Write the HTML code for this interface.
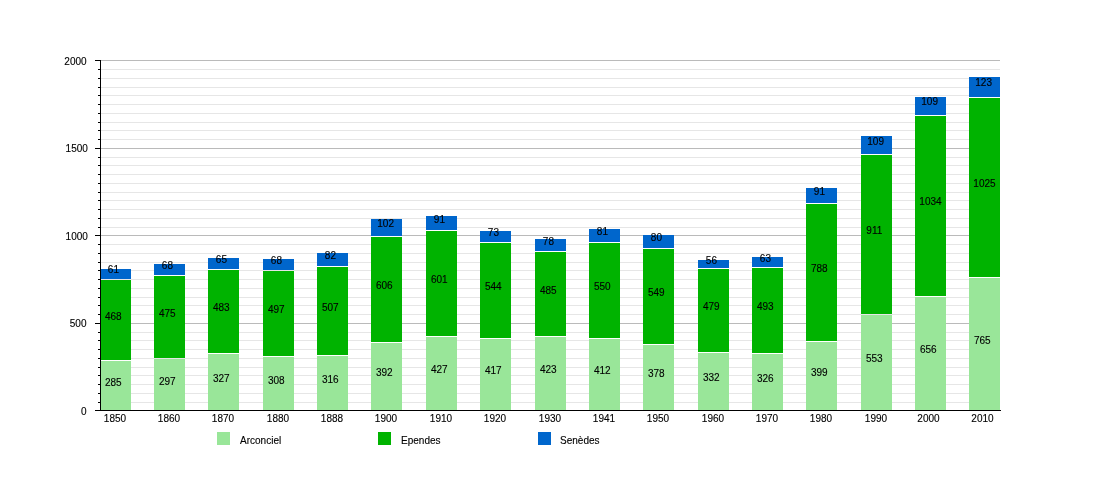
<!DOCTYPE html>
<html><head><meta charset="utf-8"><title>Population</title>
<style>html,body{margin:0;padding:0;background:#fff}svg{display:block}text{font-family:"Liberation Sans",sans-serif;font-size:10.5px;fill:#000;stroke:#000;stroke-width:0.12px}</style></head>
<body>
<svg width="1100" height="500" viewBox="0 0 1100 500">
<rect x="0" y="0" width="1100" height="500" fill="#fff"/>
<g shape-rendering="crispEdges">
<rect x="101" y="402" width="899" height="1" fill="#e6e6e6"/>
<rect x="101" y="393" width="899" height="1" fill="#e6e6e6"/>
<rect x="101" y="384" width="899" height="1" fill="#e6e6e6"/>
<rect x="101" y="375" width="899" height="1" fill="#e6e6e6"/>
<rect x="101" y="367" width="899" height="1" fill="#e6e6e6"/>
<rect x="101" y="358" width="899" height="1" fill="#e6e6e6"/>
<rect x="101" y="349" width="899" height="1" fill="#e6e6e6"/>
<rect x="101" y="340" width="899" height="1" fill="#e6e6e6"/>
<rect x="101" y="332" width="899" height="1" fill="#e6e6e6"/>
<rect x="101" y="323" width="899" height="1" fill="#bababa"/>
<rect x="101" y="314" width="899" height="1" fill="#e6e6e6"/>
<rect x="101" y="305" width="899" height="1" fill="#e6e6e6"/>
<rect x="101" y="297" width="899" height="1" fill="#e6e6e6"/>
<rect x="101" y="288" width="899" height="1" fill="#e6e6e6"/>
<rect x="101" y="279" width="899" height="1" fill="#e6e6e6"/>
<rect x="101" y="270" width="899" height="1" fill="#e6e6e6"/>
<rect x="101" y="262" width="899" height="1" fill="#e6e6e6"/>
<rect x="101" y="253" width="899" height="1" fill="#e6e6e6"/>
<rect x="101" y="244" width="899" height="1" fill="#e6e6e6"/>
<rect x="101" y="235" width="899" height="1" fill="#bababa"/>
<rect x="101" y="227" width="899" height="1" fill="#e6e6e6"/>
<rect x="101" y="218" width="899" height="1" fill="#e6e6e6"/>
<rect x="101" y="209" width="899" height="1" fill="#e6e6e6"/>
<rect x="101" y="200" width="899" height="1" fill="#e6e6e6"/>
<rect x="101" y="192" width="899" height="1" fill="#e6e6e6"/>
<rect x="101" y="183" width="899" height="1" fill="#e6e6e6"/>
<rect x="101" y="174" width="899" height="1" fill="#e6e6e6"/>
<rect x="101" y="165" width="899" height="1" fill="#e6e6e6"/>
<rect x="101" y="157" width="899" height="1" fill="#e6e6e6"/>
<rect x="101" y="148" width="899" height="1" fill="#bababa"/>
<rect x="101" y="139" width="899" height="1" fill="#e6e6e6"/>
<rect x="101" y="130" width="899" height="1" fill="#e6e6e6"/>
<rect x="101" y="122" width="899" height="1" fill="#e6e6e6"/>
<rect x="101" y="113" width="899" height="1" fill="#e6e6e6"/>
<rect x="101" y="104" width="899" height="1" fill="#e6e6e6"/>
<rect x="101" y="95" width="899" height="1" fill="#e6e6e6"/>
<rect x="101" y="87" width="899" height="1" fill="#e6e6e6"/>
<rect x="101" y="78" width="899" height="1" fill="#e6e6e6"/>
<rect x="101" y="69" width="899" height="1" fill="#e6e6e6"/>
<rect x="101" y="60" width="899" height="1" fill="#bababa"/>
<rect x="100" y="361" width="31" height="49" fill="#99e699"/>
<rect x="100" y="280" width="31" height="80" fill="#00b300"/>
<rect x="100" y="269" width="31" height="10" fill="#0066cc"/>
<rect x="154" y="359" width="31" height="51" fill="#99e699"/>
<rect x="154" y="276" width="31" height="82" fill="#00b300"/>
<rect x="154" y="264" width="31" height="11" fill="#0066cc"/>
<rect x="208" y="354" width="31" height="56" fill="#99e699"/>
<rect x="208" y="270" width="31" height="83" fill="#00b300"/>
<rect x="208" y="258" width="31" height="11" fill="#0066cc"/>
<rect x="263" y="357" width="31" height="53" fill="#99e699"/>
<rect x="263" y="271" width="31" height="85" fill="#00b300"/>
<rect x="263" y="259" width="31" height="11" fill="#0066cc"/>
<rect x="317" y="356" width="31" height="54" fill="#99e699"/>
<rect x="317" y="267" width="31" height="88" fill="#00b300"/>
<rect x="317" y="253" width="31" height="13" fill="#0066cc"/>
<rect x="371" y="343" width="31" height="67" fill="#99e699"/>
<rect x="371" y="237" width="31" height="105" fill="#00b300"/>
<rect x="371" y="219" width="31" height="17" fill="#0066cc"/>
<rect x="426" y="337" width="31" height="73" fill="#99e699"/>
<rect x="426" y="231" width="31" height="105" fill="#00b300"/>
<rect x="426" y="216" width="31" height="14" fill="#0066cc"/>
<rect x="480" y="339" width="31" height="71" fill="#99e699"/>
<rect x="480" y="243" width="31" height="95" fill="#00b300"/>
<rect x="480" y="231" width="31" height="11" fill="#0066cc"/>
<rect x="535" y="337" width="31" height="73" fill="#99e699"/>
<rect x="535" y="252" width="31" height="84" fill="#00b300"/>
<rect x="535" y="239" width="31" height="12" fill="#0066cc"/>
<rect x="589" y="339" width="31" height="71" fill="#99e699"/>
<rect x="589" y="243" width="31" height="95" fill="#00b300"/>
<rect x="589" y="229" width="31" height="13" fill="#0066cc"/>
<rect x="643" y="345" width="31" height="65" fill="#99e699"/>
<rect x="643" y="249" width="31" height="95" fill="#00b300"/>
<rect x="643" y="235" width="31" height="13" fill="#0066cc"/>
<rect x="698" y="353" width="31" height="57" fill="#99e699"/>
<rect x="698" y="269" width="31" height="83" fill="#00b300"/>
<rect x="698" y="260" width="31" height="8" fill="#0066cc"/>
<rect x="752" y="354" width="31" height="56" fill="#99e699"/>
<rect x="752" y="268" width="31" height="85" fill="#00b300"/>
<rect x="752" y="257" width="31" height="10" fill="#0066cc"/>
<rect x="806" y="342" width="31" height="68" fill="#99e699"/>
<rect x="806" y="204" width="31" height="137" fill="#00b300"/>
<rect x="806" y="188" width="31" height="15" fill="#0066cc"/>
<rect x="861" y="315" width="31" height="95" fill="#99e699"/>
<rect x="861" y="155" width="31" height="159" fill="#00b300"/>
<rect x="861" y="136" width="31" height="18" fill="#0066cc"/>
<rect x="915" y="297" width="31" height="113" fill="#99e699"/>
<rect x="915" y="116" width="31" height="180" fill="#00b300"/>
<rect x="915" y="97" width="31" height="18" fill="#0066cc"/>
<rect x="969" y="278" width="31" height="132" fill="#99e699"/>
<rect x="969" y="98" width="31" height="179" fill="#00b300"/>
<rect x="969" y="77" width="31" height="20" fill="#0066cc"/>
<rect x="100" y="60" width="1" height="351" fill="#000"/>
<rect x="95" y="410" width="906" height="1" fill="#000"/>
<rect x="95" y="410" width="5" height="1" fill="#000"/>
<rect x="98" y="402" width="2" height="1" fill="#000"/>
<rect x="98" y="393" width="2" height="1" fill="#000"/>
<rect x="98" y="384" width="2" height="1" fill="#000"/>
<rect x="98" y="375" width="2" height="1" fill="#000"/>
<rect x="98" y="367" width="2" height="1" fill="#000"/>
<rect x="98" y="358" width="2" height="1" fill="#000"/>
<rect x="98" y="349" width="2" height="1" fill="#000"/>
<rect x="98" y="340" width="2" height="1" fill="#000"/>
<rect x="98" y="332" width="2" height="1" fill="#000"/>
<rect x="95" y="323" width="5" height="1" fill="#000"/>
<rect x="98" y="314" width="2" height="1" fill="#000"/>
<rect x="98" y="305" width="2" height="1" fill="#000"/>
<rect x="98" y="297" width="2" height="1" fill="#000"/>
<rect x="98" y="288" width="2" height="1" fill="#000"/>
<rect x="98" y="279" width="2" height="1" fill="#000"/>
<rect x="98" y="270" width="2" height="1" fill="#000"/>
<rect x="98" y="262" width="2" height="1" fill="#000"/>
<rect x="98" y="253" width="2" height="1" fill="#000"/>
<rect x="98" y="244" width="2" height="1" fill="#000"/>
<rect x="95" y="235" width="5" height="1" fill="#000"/>
<rect x="98" y="227" width="2" height="1" fill="#000"/>
<rect x="98" y="218" width="2" height="1" fill="#000"/>
<rect x="98" y="209" width="2" height="1" fill="#000"/>
<rect x="98" y="200" width="2" height="1" fill="#000"/>
<rect x="98" y="192" width="2" height="1" fill="#000"/>
<rect x="98" y="183" width="2" height="1" fill="#000"/>
<rect x="98" y="174" width="2" height="1" fill="#000"/>
<rect x="98" y="165" width="2" height="1" fill="#000"/>
<rect x="98" y="157" width="2" height="1" fill="#000"/>
<rect x="95" y="148" width="5" height="1" fill="#000"/>
<rect x="98" y="139" width="2" height="1" fill="#000"/>
<rect x="98" y="130" width="2" height="1" fill="#000"/>
<rect x="98" y="122" width="2" height="1" fill="#000"/>
<rect x="98" y="113" width="2" height="1" fill="#000"/>
<rect x="98" y="104" width="2" height="1" fill="#000"/>
<rect x="98" y="95" width="2" height="1" fill="#000"/>
<rect x="98" y="87" width="2" height="1" fill="#000"/>
<rect x="98" y="78" width="2" height="1" fill="#000"/>
<rect x="98" y="69" width="2" height="1" fill="#000"/>
<rect x="95" y="60" width="5" height="1" fill="#000"/>
<rect x="217" y="432" width="13" height="13" fill="#99e699"/>
<rect x="378" y="432" width="13" height="13" fill="#00b300"/>
<rect x="538" y="432" width="13" height="13" fill="#0066cc"/>
</g>
<text transform="translate(86.6,414.5) scale(0.955,1)" text-anchor="end">0</text>
<text transform="translate(86.5,326.7) scale(0.955,1)" text-anchor="end">500</text>
<text transform="translate(87.9,239.5) scale(0.955,1)" text-anchor="end">1000</text>
<text transform="translate(87.9,151.5) scale(0.955,1)" text-anchor="end">1500</text>
<text transform="translate(86.6,64.5) scale(0.955,1)" text-anchor="end">2000</text>
<text transform="translate(115.0,422.0) scale(0.955,1)" text-anchor="middle">1850</text>
<text transform="translate(169.0,422.0) scale(0.955,1)" text-anchor="middle">1860</text>
<text transform="translate(223.0,422.0) scale(0.955,1)" text-anchor="middle">1870</text>
<text transform="translate(278.0,422.0) scale(0.955,1)" text-anchor="middle">1880</text>
<text transform="translate(332.0,422.0) scale(0.955,1)" text-anchor="middle">1888</text>
<text transform="translate(386.0,422.0) scale(0.955,1)" text-anchor="middle">1900</text>
<text transform="translate(441.0,422.0) scale(0.955,1)" text-anchor="middle">1910</text>
<text transform="translate(495.0,422.0) scale(0.955,1)" text-anchor="middle">1920</text>
<text transform="translate(550.0,422.0) scale(0.955,1)" text-anchor="middle">1930</text>
<text transform="translate(604.0,422.0) scale(0.955,1)" text-anchor="middle">1941</text>
<text transform="translate(658.0,422.0) scale(0.955,1)" text-anchor="middle">1950</text>
<text transform="translate(713.0,422.0) scale(0.955,1)" text-anchor="middle">1960</text>
<text transform="translate(767.0,422.0) scale(0.955,1)" text-anchor="middle">1970</text>
<text transform="translate(821.0,422.0) scale(0.955,1)" text-anchor="middle">1980</text>
<text transform="translate(876.0,422.0) scale(0.955,1)" text-anchor="middle">1990</text>
<text transform="translate(928.5,422.0) scale(0.955,1)" text-anchor="middle">2000</text>
<text transform="translate(982.5,422.0) scale(0.955,1)" text-anchor="middle">2010</text>
<text transform="translate(113.3,386.0) scale(0.955,1)" text-anchor="middle">285</text>
<text transform="translate(113.3,320.0) scale(0.955,1)" text-anchor="middle">468</text>
<text transform="translate(113.4,273.0) scale(0.955,1)" text-anchor="middle">61</text>
<text transform="translate(167.3,385.0) scale(0.955,1)" text-anchor="middle">297</text>
<text transform="translate(167.3,317.0) scale(0.955,1)" text-anchor="middle">475</text>
<text transform="translate(167.4,269.0) scale(0.955,1)" text-anchor="middle">68</text>
<text transform="translate(221.3,382.0) scale(0.955,1)" text-anchor="middle">327</text>
<text transform="translate(221.3,311.0) scale(0.955,1)" text-anchor="middle">483</text>
<text transform="translate(221.4,263.0) scale(0.955,1)" text-anchor="middle">65</text>
<text transform="translate(276.3,384.0) scale(0.955,1)" text-anchor="middle">308</text>
<text transform="translate(276.3,313.0) scale(0.955,1)" text-anchor="middle">497</text>
<text transform="translate(276.4,264.0) scale(0.955,1)" text-anchor="middle">68</text>
<text transform="translate(330.3,383.0) scale(0.955,1)" text-anchor="middle">316</text>
<text transform="translate(330.3,311.0) scale(0.955,1)" text-anchor="middle">507</text>
<text transform="translate(330.4,259.0) scale(0.955,1)" text-anchor="middle">82</text>
<text transform="translate(384.3,376.0) scale(0.955,1)" text-anchor="middle">392</text>
<text transform="translate(384.3,289.0) scale(0.955,1)" text-anchor="middle">606</text>
<text transform="translate(385.6,227.0) scale(0.955,1)" text-anchor="middle">102</text>
<text transform="translate(439.3,373.0) scale(0.955,1)" text-anchor="middle">427</text>
<text transform="translate(439.3,283.0) scale(0.955,1)" text-anchor="middle">601</text>
<text transform="translate(439.4,223.0) scale(0.955,1)" text-anchor="middle">91</text>
<text transform="translate(493.3,374.0) scale(0.955,1)" text-anchor="middle">417</text>
<text transform="translate(493.3,290.0) scale(0.955,1)" text-anchor="middle">544</text>
<text transform="translate(493.4,236.0) scale(0.955,1)" text-anchor="middle">73</text>
<text transform="translate(548.3,373.0) scale(0.955,1)" text-anchor="middle">423</text>
<text transform="translate(548.3,294.0) scale(0.955,1)" text-anchor="middle">485</text>
<text transform="translate(548.4,245.0) scale(0.955,1)" text-anchor="middle">78</text>
<text transform="translate(602.3,374.0) scale(0.955,1)" text-anchor="middle">412</text>
<text transform="translate(602.3,290.0) scale(0.955,1)" text-anchor="middle">550</text>
<text transform="translate(602.4,235.0) scale(0.955,1)" text-anchor="middle">81</text>
<text transform="translate(656.3,377.0) scale(0.955,1)" text-anchor="middle">378</text>
<text transform="translate(656.3,296.0) scale(0.955,1)" text-anchor="middle">549</text>
<text transform="translate(656.4,241.0) scale(0.955,1)" text-anchor="middle">80</text>
<text transform="translate(711.3,381.0) scale(0.955,1)" text-anchor="middle">332</text>
<text transform="translate(711.3,310.0) scale(0.955,1)" text-anchor="middle">479</text>
<text transform="translate(711.4,264.0) scale(0.955,1)" text-anchor="middle">56</text>
<text transform="translate(765.3,382.0) scale(0.955,1)" text-anchor="middle">326</text>
<text transform="translate(765.3,310.0) scale(0.955,1)" text-anchor="middle">493</text>
<text transform="translate(765.4,262.0) scale(0.955,1)" text-anchor="middle">63</text>
<text transform="translate(819.3,376.0) scale(0.955,1)" text-anchor="middle">399</text>
<text transform="translate(819.3,272.0) scale(0.955,1)" text-anchor="middle">788</text>
<text transform="translate(819.4,195.0) scale(0.955,1)" text-anchor="middle">91</text>
<text transform="translate(874.3,362.0) scale(0.955,1)" text-anchor="middle">553</text>
<text transform="translate(874.3,234.0) scale(0.955,1)" text-anchor="middle">911</text>
<text transform="translate(875.6,145.0) scale(0.955,1)" text-anchor="middle">109</text>
<text transform="translate(928.3,353.0) scale(0.955,1)" text-anchor="middle">656</text>
<text transform="translate(930.5,205.0) scale(0.955,1)" text-anchor="middle">1034</text>
<text transform="translate(929.6,105.0) scale(0.955,1)" text-anchor="middle">109</text>
<text transform="translate(982.3,344.0) scale(0.955,1)" text-anchor="middle">765</text>
<text transform="translate(984.5,187.0) scale(0.955,1)" text-anchor="middle">1025</text>
<text transform="translate(983.6,86.0) scale(0.955,1)" text-anchor="middle">123</text>
<text transform="translate(240.0,444.0) scale(0.955,1)" text-anchor="start">Arconciel</text>
<text transform="translate(401.0,444.0) scale(0.955,1)" text-anchor="start">Ependes</text>
<text transform="translate(560.0,444.0) scale(0.955,1)" text-anchor="start">Senèdes</text>
</svg>
</body></html>
